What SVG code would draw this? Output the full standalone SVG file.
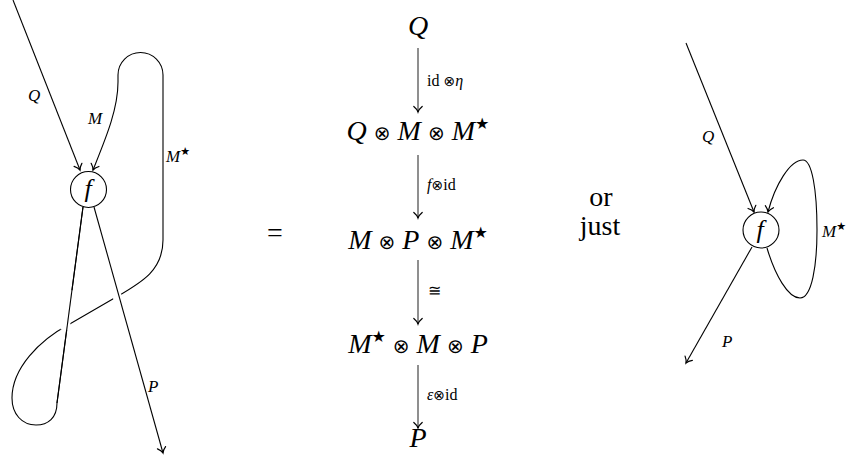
<svg xmlns="http://www.w3.org/2000/svg" width="854" height="462" viewBox="0 0 854 462">
<defs>
  <marker id="arr" viewBox="-8 -6 10 12" markerWidth="10" markerHeight="12" refX="0" refY="0" orient="auto" markerUnits="userSpaceOnUse" overflow="visible">
    <path d="M -5.5,-4.2 C -3.5,-1.8 -1.5,-0.5 0,0 C -1.5,0.5 -3.5,1.8 -5.5,4.2" fill="none" stroke="#000" stroke-width="1.2" stroke-linecap="round"/>
  </marker>
</defs>

<g id="left-connectors" fill="none" stroke="#000" stroke-width="1.1">
  <path d="M 13,0 L 80,170" marker-end="url(#arr)"/>
  <path d="M 83,207 L 57,403 C 57,418 48,425 36,425 C 22,425 12,414 12,398 C 12,368 40,340 68,325 L 118,296 C 142,282 163,270 163,240 L 163,75 A 22.5,22.5 0 0 0 118,75 L 118,82 C 118,110 105,140 93,170" marker-end="url(#arr)"/>
  <path d="M 70.2,290 L 65,330" stroke="#fff" stroke-width="9"/>
  <path d="M 83,207 L 57,403"/>
  <path d="M 111,275 L 124,320" stroke="#fff" stroke-width="9"/>
  <path d="M 94,207 L 163,453" marker-end="url(#arr)"/>
</g>
<g id="left-f">
  <circle cx="88.5" cy="189.5" r="18" fill="#fff" stroke="#000" stroke-width="1.1"/>
  <text style="font-family:'Liberation Serif',serif !important;font-style:italic" x="88" y="197" font-size="26" text-anchor="middle">f</text>
</g>
<g id="left-labels">
  <text style="font-family:'Liberation Serif',serif !important;font-style:italic" font-size="17" x="28" y="101">Q</text>
  <text style="font-family:'Liberation Serif',serif !important;font-style:italic" font-size="17" x="88" y="124">M</text>
  <text style="font-family:'Liberation Serif',serif !important" font-size="17" x="166" y="162"><tspan font-style="italic">M</tspan><tspan style="font-family:'DejaVu Sans',sans-serif !important" font-size="11" dy="-7">★</tspan></text>
  <text style="font-family:'Liberation Serif',serif !important;font-style:italic" font-size="17" x="148" y="392">P</text>
</g>

<text id="equals" style="font-family:'Liberation Serif',serif !important" font-size="28" x="275" y="242" text-anchor="middle">=</text>

<g id="n-Q"><text style="font-family:'Liberation Serif',serif !important;font-style:italic" font-size="28" x="418" y="35" text-anchor="middle">Q</text></g>
<g id="n-QMM"><text style="font-family:'Liberation Serif',serif !important" font-size="28" x="418" y="140" text-anchor="middle"><tspan font-style="italic">Q</tspan> <tspan style="font-family:'DejaVu Sans',sans-serif !important" font-size="20">⊗</tspan> <tspan font-style="italic">M</tspan> <tspan style="font-family:'DejaVu Sans',sans-serif !important" font-size="20">⊗</tspan> <tspan font-style="italic">M</tspan><tspan style="font-family:'DejaVu Sans',sans-serif !important" font-size="16" dy="-11">★</tspan></text></g>
<g id="n-MPM"><text style="font-family:'Liberation Serif',serif !important" font-size="28" x="418" y="249" text-anchor="middle"><tspan font-style="italic">M</tspan> <tspan style="font-family:'DejaVu Sans',sans-serif !important" font-size="20">⊗</tspan> <tspan font-style="italic">P</tspan> <tspan style="font-family:'DejaVu Sans',sans-serif !important" font-size="20">⊗</tspan> <tspan font-style="italic">M</tspan><tspan style="font-family:'DejaVu Sans',sans-serif !important" font-size="16" dy="-11">★</tspan></text></g>
<g id="n-MMP"><text style="font-family:'Liberation Serif',serif !important" font-size="28" x="418" y="353" text-anchor="middle"><tspan font-style="italic">M</tspan><tspan style="font-family:'DejaVu Sans',sans-serif !important" font-size="16" dy="-11">★</tspan><tspan dy="11"> </tspan><tspan style="font-family:'DejaVu Sans',sans-serif !important" font-size="20">⊗</tspan> <tspan font-style="italic">M</tspan> <tspan style="font-family:'DejaVu Sans',sans-serif !important" font-size="20">⊗</tspan> <tspan font-style="italic">P</tspan></text></g>
<g id="n-P"><text style="font-family:'Liberation Serif',serif !important;font-style:italic" font-size="28" x="418" y="447" text-anchor="middle">P</text></g>

<g id="center-connectors" fill="none" stroke="#333" stroke-width="1.1">
  <path d="M 418,48 L 418,112" marker-end="url(#arr)"/>
  <path d="M 418,155 L 418,218" marker-end="url(#arr)"/>
  <path d="M 418,260 L 418,324" marker-end="url(#arr)"/>
  <path d="M 418,365 L 418,428" marker-end="url(#arr)"/>
</g>
<g id="center-labels">
  <text style="font-family:'Liberation Serif',serif !important" font-size="16" x="427" y="86">id <tspan style="font-family:'DejaVu Sans',sans-serif !important" font-size="14">⊗</tspan><tspan font-style="italic">η</tspan></text>
  <text style="font-family:'Liberation Serif',serif !important" font-size="16" x="427" y="190"><tspan font-style="italic">f</tspan><tspan style="font-family:'DejaVu Sans',sans-serif !important" font-size="14">⊗</tspan>id</text>
  <text style="font-family:'Liberation Serif',serif !important" font-size="16" x="428" y="296">≅</text>
  <text style="font-family:'Liberation Serif',serif !important" font-size="16" x="427" y="400"><tspan font-style="italic">ε</tspan><tspan style="font-family:'DejaVu Sans',sans-serif !important" font-size="14">⊗</tspan>id</text>
</g>

<g id="or-just">
  <text style="font-family:'Liberation Serif',serif !important" font-size="28" x="601" y="206" text-anchor="middle">or</text>
  <text style="font-family:'Liberation Serif',serif !important" font-size="28" x="600" y="235" text-anchor="middle">just</text>
</g>

<g id="right-connectors" fill="none" stroke="#000" stroke-width="1.1">
  <path d="M 686,43 L 754,212" marker-end="url(#arr)"/>
  <path d="M 767,248 C 775,275 788,298 800,298 C 812,298 817,265 817,230 C 817,190 812,160 803,160 C 790,160 775,185 768,212" marker-end="url(#arr)"/>
  <path d="M 752,247 L 686,363" marker-end="url(#arr)"/>
</g>
<g id="right-f">
  <circle cx="761" cy="230" r="18" fill="#fff" stroke="#000" stroke-width="1.1"/>
  <text style="font-family:'Liberation Serif',serif !important;font-style:italic" x="760" y="238" font-size="26" text-anchor="middle">f</text>
</g>
<g id="right-labels">
  <text style="font-family:'Liberation Serif',serif !important;font-style:italic" font-size="17" x="702" y="142">Q</text>
  <text style="font-family:'Liberation Serif',serif !important" font-size="17" x="822" y="237"><tspan font-style="italic">M</tspan><tspan style="font-family:'DejaVu Sans',sans-serif !important" font-size="11" dy="-7">★</tspan></text>
  <text style="font-family:'Liberation Serif',serif !important;font-style:italic" font-size="17" x="722" y="347">P</text>
</g>
</svg>
